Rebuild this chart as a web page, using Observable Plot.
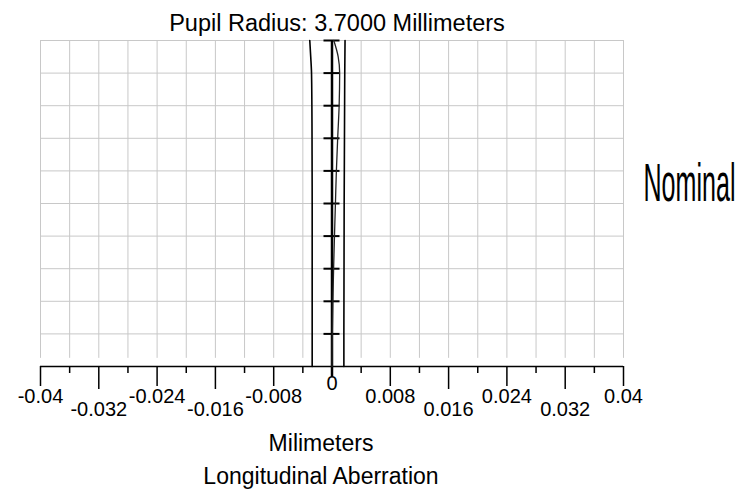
<!DOCTYPE html>
<html><head><meta charset="utf-8">
<script src="https://cdn.jsdelivr.net/npm/d3@7"></script>
<script src="https://cdn.jsdelivr.net/npm/@observablehq/plot@0.6"></script>
<style>body{margin:0;background:#fff}</style>
</head><body><div id="chart"></div>
<script>
const titleText = "Pupil Radius: 3.7000 Millimeters";
const sideLabel = "Nominal";
const xLabelText = "Milimeters";
const chartLabel = "Longitudinal Aberration";

// normalized pupil coordinate (y) and longitudinal aberration (x, mm)
const pupil  = [0, 0.1, 0.2, 0.3, 0.4, 0.5, 0.6, 0.7, 0.8, 0.9, 0.95, 1.0];
const curveA = [-0.00272, -0.00272, -0.00272, -0.00272, -0.00272, -0.00272, -0.00273, -0.00274, -0.00276, -0.00281, -0.00292, -0.00305];
const curveB = [0.00163, 0.00163, 0.00164, 0.00165, 0.00166, 0.00167, 0.00169, 0.00171, 0.00173, 0.00175, 0.00177, 0.00179];
const curveC = [0, 0.00004, 0.00012, 0.00022, 0.00034, 0.00047, 0.0006, 0.00078, 0.00098, 0.00105, 0.00085, 0.00025];

const xGrid = [-0.04, -0.036, -0.032, -0.028, -0.024, -0.02, -0.016, -0.012, -0.008, -0.004, 0,
               0.004, 0.008, 0.012, 0.016, 0.02, 0.024, 0.028, 0.032, 0.036, 0.04];
const yGrid = [0.1, 0.2, 0.3, 0.4, 0.5, 0.6, 0.7, 0.8, 0.9, 1.0];
const xTicksRowA = [-0.04, -0.024, -0.008, 0.008, 0.024, 0.04];
const xLabelsRowA = ["-0.04", "-0.024", "-0.008", "0.008", "0.024", "0.04"];
const xTicksRowB = [-0.032, -0.016, 0.016, 0.032];
const xLabelsRowB = ["-0.032", "-0.016", "0.016", "0.032"];
const xTicksZero = [0];
const xLabelsZero = ["0"];
const xMinor = [-0.036, -0.028, -0.02, -0.012, -0.004, 0.004, 0.012, 0.02, 0.028, 0.036];

const fmt = new Map([
  ...xTicksRowA.map((v, i) => [v, xLabelsRowA[i]]),
  ...xTicksRowB.map((v, i) => [v, xLabelsRowB[i]]),
  ...xTicksZero.map((v, i) => [v, xLabelsZero[i]])
]);
const toRows = vals => pupil.map((p, i) => ({p, v: vals[i]}));
const gridColor = "#c8c8c8";
const tickFont = 20;

const chart = Plot.plot({
  width: 741, height: 489,
  marginLeft: 40, marginRight: 118, marginTop: 40, marginBottom: 123,
  x: {domain: [-0.04, 0.04], axis: null},
  y: {domain: [0, 1], axis: null},
  style: {fontFamily: "'Liberation Sans', Arial, sans-serif", background: "#fff", color: "#000"},
  marks: [
    Plot.ruleX(xGrid, {x: d => d, y1: 0.025, y2: 1, stroke: gridColor, strokeWidth: 1}),
    Plot.ruleY(yGrid, {y: d => d, stroke: gridColor, strokeWidth: 1}),
    Plot.ruleY([0], {y: d => d, stroke: "#000", strokeWidth: 1.5}),
    Plot.axisX(xMinor, {anchor: "bottom", tickSize: 7, tickFormat: () => "", label: null, stroke: "#000", strokeWidth: 1.5}),
    Plot.axisX(xTicksRowA, {anchor: "bottom", tickSize: 20, tickPadding: 2, tickFormat: d => fmt.get(d), fontSize: tickFont, label: null, stroke: "#000", strokeWidth: 1.5}),
    Plot.axisX(xTicksRowB, {anchor: "bottom", tickSize: 23, tickPadding: 12, tickFormat: d => fmt.get(d), fontSize: tickFont, label: null, stroke: "#000", strokeWidth: 1.5}),
    Plot.axisX(xTicksZero, {anchor: "bottom", tickSize: 11, tickPadding: -1.5, tickFormat: d => fmt.get(d), fontSize: tickFont, label: null, stroke: "#000", strokeWidth: 2.5}),
    Plot.ruleX([0], {x: d => d, y1: 0, y2: 1, stroke: "#000", strokeWidth: 2.5}),
    Plot.ruleY(yGrid, {y: d => d, x1: -0.0011, x2: 0.0011, stroke: "#000", strokeWidth: 2}),
    Plot.line(toRows(curveC), {x: "v", y: "p", curve: "monotone-y", stroke: "#222", strokeWidth: 1.3}),
    Plot.line(toRows(curveA), {x: "v", y: "p", curve: "monotone-y", stroke: "#000", strokeWidth: 1.6}),
    Plot.line(toRows(curveB), {x: "v", y: "p", curve: "monotone-y", stroke: "#000", strokeWidth: 1.6}),
    Plot.text([titleText], {text: d => d, frameAnchor: "top", dx: 5, dy: -17, lineAnchor: "middle", fontSize: 23.5, fill: "#000"}),
    Plot.text([sideLabel], {text: d => d, frameAnchor: "right", dx: 20, dy: -19.5, textAnchor: "start", lineAnchor: "middle", fontSize: 54, fill: "#000"}),
    Plot.text([xLabelText], {text: d => d, frameAnchor: "bottom", dx: -11, dy: 67.7, lineAnchor: "top", fontSize: 23, fill: "#000"}),
    Plot.text([chartLabel], {text: d => d, frameAnchor: "bottom", dx: -11, dy: 100.7, lineAnchor: "top", fontSize: 23, fill: "#000"})
  ]
});
document.getElementById("chart").appendChild(chart);
d3.select(chart).selectAll("text")
  .filter(function() { return this.textContent === sideLabel; })
  .each(function() {
    const bb = this.getBBox();
    const s = 92 / bb.width;
    const x0 = bb.x;
    const t = this.getAttribute("transform") || "";
    this.setAttribute("transform", `${t} translate(${x0},0) scale(${s},1) translate(${-x0},0)`);
  });
</script>
</body></html>
